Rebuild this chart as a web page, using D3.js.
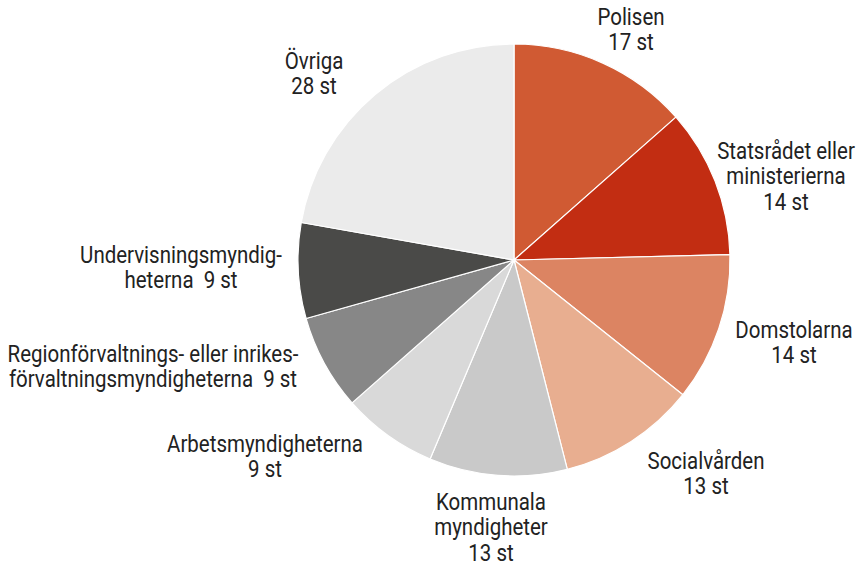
<!DOCTYPE html>
<html lang="sv">
<head>
	<meta charset="utf-8">
	<title>Pie</title>
	<script src="https://d3js.org/d3.v7.min.js"></script>
	<style>
		body { margin: 0; background: #fff; }
		text { font-family: "Roboto", "Liberation Sans", sans-serif; font-size: 23px; fill: #222; white-space: pre; }
	</style>
</head>
<body>
	<div id="chart"></div>
	<script>
		// data
		let categories = ["Polisen", "Statsrådet eller ministerierna", "Domstolarna", "Socialvården",
			"Kommunala myndigheter", "Arbetsmyndigheterna", "Regionförvaltnings- eller inrikesförvaltningsmyndigheterna",
			"Undervisningsmyndigheterna", "Övriga"];
		let values = [17, 14, 14, 13, 13, 9, 9, 9, 28];
		let labelLines = [
			["Polisen", "17 st"],
			["Statsrådet eller", "ministerierna", "14 st"],
			["Domstolarna", "14 st"],
			["Socialvården", "13 st"],
			["Kommunala", "myndigheter", "13 st"],
			["Arbetsmyndigheterna", "9 st"],
			["Regionförvaltnings- eller inrikes-", "förvaltningsmyndigheterna  9 st"],
			["Undervisningsmyndig-", "heterna  9 st"],
			["Övriga", "28 st"]
		];

		// layout
		let width = 865, height = 566;
		let cx = 514, cy = 260, radius = 216;
		let colors = ["#d05a33", "#c22d12", "#dc8462", "#e8ae90", "#c9c9c9", "#d9d9d9", "#878787", "#4a4a48", "#ebebeb"];
		// label anchor (middle of first baseline)
		let labelPos = [[631, 25], [786, 159], [794, 338], [706, 469], [491, 510], [265, 452], [153, 362], [181, 263], [314, 69]];
		let lineH = 25.5;
		let squeeze = 0.89; // condensed look

		let svg = d3.select("#chart").append("svg")
			.attr("width", width)
			.attr("height", height);

		let g = svg.append("g").attr("transform", "translate(" + cx + "," + cy + ")");

		let pie = d3.pie().sort(null).value(d => d);
		let arc = d3.arc().innerRadius(0).outerRadius(radius);

		g.selectAll("path")
			.data(pie(values))
			.enter()
			.append("path")
			.attr("d", arc)
			.attr("fill", (d, i) => colors[i])
			.attr("stroke", "#fff")
			.attr("stroke-width", 1.2)
			.attr("stroke-linejoin", "round");

		let labels = svg.selectAll("text.lbl")
			.data(labelLines)
			.enter()
			.append("text")
			.attr("class", "lbl")
			.attr("text-anchor", "middle")
			.attr("transform", (d, i) => "translate(" + labelPos[i][0] + "," + labelPos[i][1] + ") scale(" + squeeze + ",1)");

		labels.selectAll("tspan")
			.data(d => d)
			.enter()
			.append("tspan")
			.attr("x", 0)
			.attr("dy", (d, j) => j === 0 ? 0 : lineH)
			.text(d => d);
	</script>
</body>
</html>
